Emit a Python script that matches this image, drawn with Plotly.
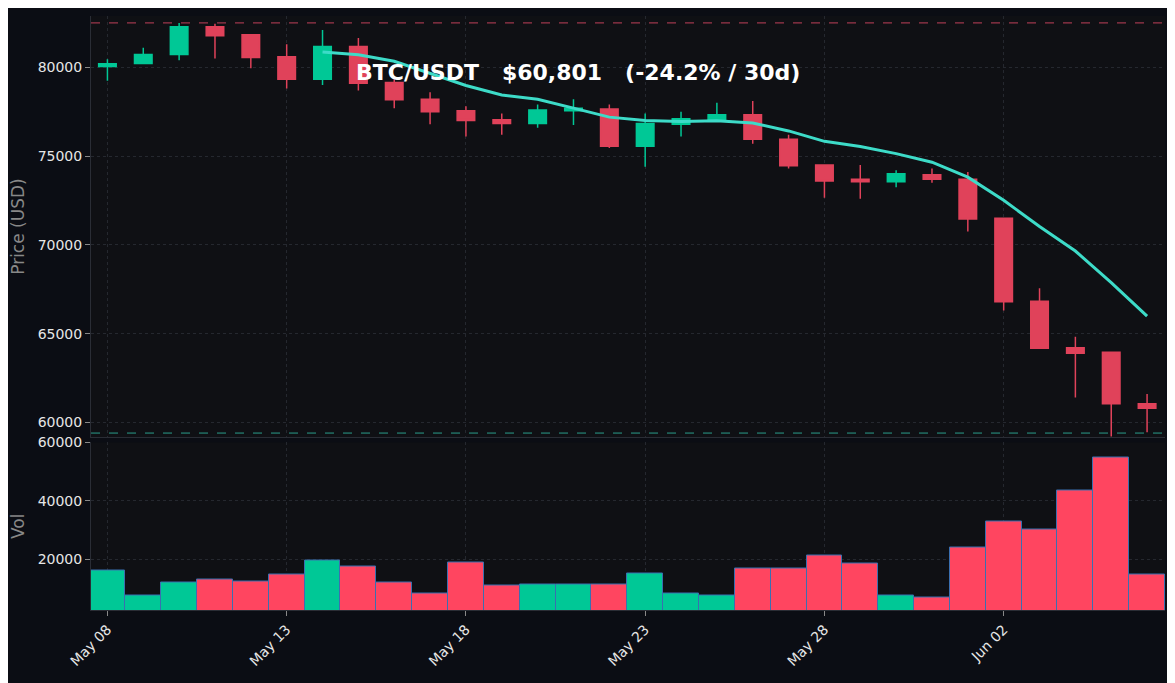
import plotly.graph_objects as go
import pandas as pd

dates = pd.date_range("2024-05-08", periods=30, freq="D")
opens = [80050,80220,80720,82280,81830,80600,79330,81170,79150,78200,77550,77050,76830,77550,77650,75560,76800,77050,77330,75950,74500,73700,73550,73950,73700,71500,66830,64200,63950,61050]
closes = [80200,80720,82280,81780,80550,79330,81170,79100,78170,77500,77000,76830,77600,77700,75560,76830,77100,77330,75950,74450,73600,73550,74000,73700,71450,66800,64170,63900,61050,60801]
highs = [80450,81100,82500,82450,81830,81300,82100,81650,79330,78600,77800,77400,77900,78200,77900,77400,77500,78000,78100,76200,74500,74500,74200,74300,74100,71500,67550,64830,64000,61600]
lows = [79250,80200,80400,80500,79950,78800,79000,78700,77700,76800,76100,76200,76600,76750,75450,74400,76100,76950,75700,74300,72650,72600,73250,73500,70750,66300,64150,61400,59200,59450]
volumes = [16300,7800,12200,13200,12500,14900,19700,17600,12200,8500,19000,11200,11500,11500,11500,15300,8500,7800,17000,17000,21400,18600,7800,7100,24100,32900,30200,43700,54900,14900]

UP, DN = "#00c896", "#e0425a"
ma = pd.Series(closes).rolling(7).mean()
vcol = ["#00c896" if c >= o else "#ff4560" for o, c in zip(opens, closes)]

fig = go.Figure()
fig.add_trace(go.Candlestick(x=dates, open=opens, high=highs, low=lows, close=closes,
    increasing=dict(line=dict(color=UP, width=1.5), fillcolor=UP),
    decreasing=dict(line=dict(color=DN, width=1.5), fillcolor=DN),
    whiskerwidth=0, xaxis="x2", yaxis="y2", showlegend=False))
fig.add_trace(go.Scatter(x=dates, y=ma, mode="lines", line=dict(color="#3ddbc8", width=3),
    xaxis="x2", yaxis="y2", showlegend=False))
fig.add_trace(go.Bar(x=dates, y=volumes, marker=dict(color=vcol, line=dict(color="#3a6fb0", width=1)),
    xaxis="x", yaxis="y", showlegend=False))

xr = [dates[0] - pd.Timedelta(hours=11), dates[-1] + pd.Timedelta(hours=12)]
grid = dict(gridcolor="#25282f", griddash="dot", zeroline=False, linecolor="#2a2d35", showline=True)
pct = (closes[-1] / closes[0] - 1) * 100
fig.update_layout(
    width=1175, height=683, margin=dict(l=83, r=18, t=0, b=81),
    paper_bgcolor="#0b0d14", plot_bgcolor="#0f1014", bargap=0,
    font=dict(family="DejaVu Sans", color="#e6e6e6", size=14),
    xaxis=dict(range=xr, tickformat="%b %d", dtick=5*86400000, tick0=dates[0], tickangle=-45,
               ticks="outside", tickcolor="#888", **grid),
    xaxis2=dict(range=xr, anchor="y2", matches="x", showticklabels=False, rangeslider=dict(visible=False),
                dtick=5*86400000, tick0=dates[0], **grid),
    yaxis=dict(domain=[0, 0.282], range=[2700, 60000], tickvals=[20000,40000,60000], tickformat="d",
               ticks="outside", tickcolor="#888", title=dict(text="Vol", font=dict(color="#888")), **grid),
    yaxis2=dict(domain=[0.291, 1], range=[59170, 82890], tickvals=[60000,65000,70000,75000,80000],
                tickformat="d", ticks="outside", tickcolor="#888",
                title=dict(text="Price (USD)", font=dict(color="#888")), **grid),
    shapes=[
        dict(type="line", xref="x2 domain", yref="y2", x0=0, x1=1, y0=max(highs), y1=max(highs),
             line=dict(color="#c0405a", width=1, dash="dash")),
        dict(type="line", xref="x2 domain", yref="y2", x0=0, x1=1, y0=min(lows)+200, y1=min(lows)+200,
             line=dict(color="#2a9d8a", width=1, dash="dash")),
    ],
    annotations=[dict(xref="x2 domain", yref="y2 domain", x=0.245, y=0.9, xanchor="left", showarrow=False,
        text=f"<b>BTC/USDT   ${closes[-1]:,}   ({pct:.1f}% / 30d)</b>",
        font=dict(size=22, color="white", family="DejaVu Sans"))],
)
fig.write_html("out.html")
